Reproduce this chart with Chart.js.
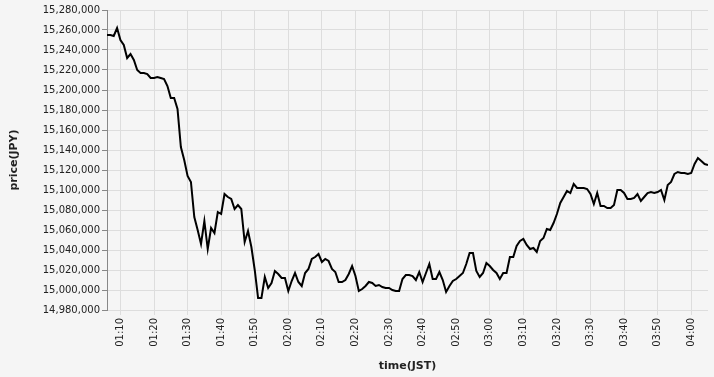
<!DOCTYPE html>
<html lang="en">
<head>
  <meta charset="UTF-8">
  <title>price(JPY) by time(JST)</title>
  <script src="https://cdn.jsdelivr.net/npm/chart.js"></script>
  <style>
    body { margin: 0; padding: 0; background: #f5f5f5; }
    canvas { display: block; }
  </style>
</head>
<body>
  <canvas id="priceChart" width="714" height="377"></canvas>
  <script>
// one sample per minute, starting at 01:06 JST
const startTime = '01:06';
const prices = [
  15255000, 15255000, 15254000, 15262000, 15250000, 15245000, 15232000, 15236000, 15230000, 15220000,
  15217000, 15217000, 15216000, 15212000, 15212000, 15213000, 15212000, 15211000, 15204000, 15192000,
  15192000, 15181000, 15143000, 15130000, 15114000, 15108000, 15073000, 15060000, 15046000, 15069000,
  15041000, 15062000, 15057000, 15078000, 15076000, 15096000, 15093000, 15091000, 15081000, 15085000,
  15081000, 15048000, 15059000, 15043000, 15020000, 14992000, 14992000, 15013000, 15002000, 15007000,
  15019000, 15016000, 15012000, 15012000, 14999000, 15009000, 15017000, 15008000, 15004000, 15017000,
  15021000, 15031000, 15033000, 15036000, 15028000, 15031000, 15029000, 15021000, 15018000, 15008000,
  15008000, 15010000, 15016000, 15024000, 15014000, 14999000, 15001000, 15004000, 15008000, 15007000,
  15004000, 15005000, 15003000, 15002000, 15002000, 15000000, 14999000, 14999000, 15011000, 15015000,
  15015000, 15014000, 15010000, 15018000, 15008000, 15017000, 15026000, 15011000, 15011000, 15018000,
  15010000, 14998000, 15004000, 15009000, 15011000, 15014000, 15017000, 15026000, 15037000, 15037000,
  15019000, 15013000, 15017000, 15027000, 15024000, 15020000, 15017000, 15011000, 15017000, 15017000,
  15033000, 15033000, 15044000, 15049000, 15051000, 15045000, 15041000, 15042000, 15038000, 15049000,
  15052000, 15061000, 15060000, 15067000, 15076000, 15087000, 15093000, 15099000, 15097000, 15106000,
  15102000, 15102000, 15102000, 15101000, 15096000, 15086000, 15097000, 15084000, 15084000, 15082000,
  15082000, 15085000, 15100000, 15100000, 15097000, 15091000, 15091000, 15092000, 15096000, 15089000,
  15093000, 15097000, 15098000, 15097000, 15098000, 15100000, 15090000, 15105000, 15108000, 15116000,
  15118000, 15117000, 15117000, 15116000, 15117000, 15126000, 15132000, 15129000, 15126000, 15125000
];
const timeTicks = ['01:10', '01:20', '01:30', '01:40', '01:50', '02:00', '02:10', '02:20', '02:30',
  '02:40', '02:50', '03:00', '03:10', '03:20', '03:30', '03:40', '03:50', '04:00'];
const priceTicks = [14980000, 15000000, 15020000, 15040000, 15060000, 15080000, 15100000, 15120000,
  15140000, 15160000, 15180000, 15200000, 15220000, 15240000, 15260000, 15280000];

function toMinutes(s) {
  const [h, m] = s.split(':').map(Number);
  return h * 60 + m;
}
function toClock(min) {
  const h = Math.floor(min / 60), m = min % 60;
  return String(h).padStart(2, '0') + ':' + String(m).padStart(2, '0');
}

const t0 = toMinutes(startTime);
const points = prices.map((p, i) => ({ x: t0 + i, y: p }));

Chart.defaults.font.family = 'DejaVu Sans';
Chart.defaults.font.size = 10;
Chart.defaults.color = '#222';

new Chart(document.getElementById('priceChart'), {
  type: 'line',
  data: {
    datasets: [{
      data: points,
      borderColor: '#000',
      borderWidth: 2,
      pointRadius: 0,
      tension: 0,
      fill: false
    }]
  },
  options: {
    responsive: false,
    animation: false,
    devicePixelRatio: 1,
    layout: { padding: { top: 10, right: 6, bottom: 0, left: 0 } },
    plugins: { legend: { display: false }, tooltip: { enabled: false } },
    scales: {
      x: {
        type: 'linear',
        min: t0,
        max: t0 + prices.length - 1,
        afterBuildTicks: s => { s.ticks = timeTicks.map(t => ({ value: toMinutes(t) })); },
        afterFit: s => { s.height = 67; },
        ticks: {
          minRotation: 90,
          maxRotation: 90,
          padding: 3,
          autoSkip: false,
          callback: v => toClock(v)
        },
        grid: { color: '#ddd', tickLength: 5 },
        border: { display: false },
        title: {
          display: true,
          text: 'time(JST)',
          font: { size: 11, weight: 'bold' },
          padding: { top: 4, bottom: 4 }
        }
      },
      y: {
        min: priceTicks[0],
        max: priceTicks[priceTicks.length - 1],
        afterBuildTicks: s => { s.ticks = priceTicks.map(v => ({ value: v })); },
        afterFit: s => { s.width = 107; },
        ticks: {
          padding: 2,
          autoSkip: false,
          callback: v => v.toLocaleString('en-US')
        },
        grid: { color: '#ddd', tickColor: '#888', tickLength: 5 },
        border: { color: '#888' },
        title: {
          display: true,
          text: 'price(JPY)',
          font: { size: 11, weight: 'bold' },
          padding: { top: 8, bottom: 4 }
        }
      }
    }
  }
});
  </script>
</body>
</html>
